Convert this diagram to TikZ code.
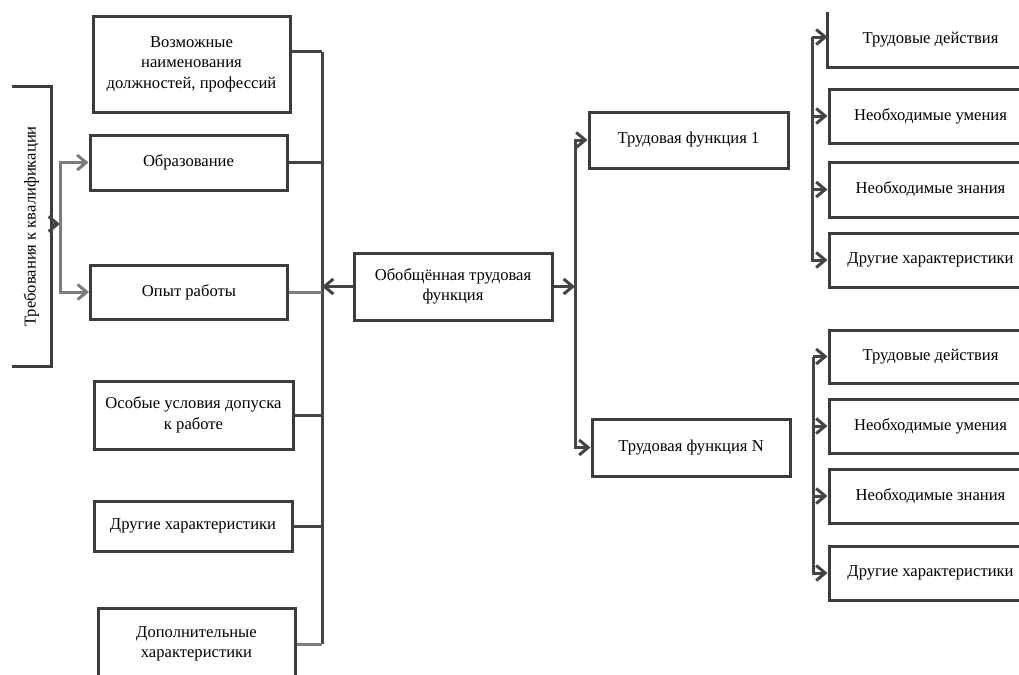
\documentclass[tikz,border=0pt]{standalone}
\usepackage{fontspec}
\setmainfont{Liberation Serif}
\usepackage{tikz}
\usetikzlibrary{arrows.meta}
\definecolor{boxgray}{HTML}{3C3C3C}
\definecolor{linedark}{HTML}{444444}
\definecolor{linegray}{HTML}{7C7C7C}
\tikzset{
	box/.style={rectangle,draw=boxgray,line width=1.5pt,align=center,inner sep=2pt,font=\fontsize{8.3}{10.3}\selectfont},
	openbox/.style={box,draw=none},
	boxline/.style={draw=boxgray,line width=1.5pt},
	lbox/.style={box,minimum width=98.5pt},
	rbox/.style={box,minimum width=101.5pt,minimum height=27pt},
	link/.style={draw=linedark,line width=1.5pt},
	directed/.style={link,arrows={-Straight Barb[length=4.5pt,width=7.5pt,line width=1.5pt]}}
	}

\begin{document}
\begin{tikzpicture}[x=0.5pt,y=-0.5pt]
	\useasboundingbox (0,0) rectangle (1019,675);
	% qualification side
	\node[openbox,rotate=90,minimum width=138.5pt,minimum height=18.5pt] (quals) at (31.5,226.5) {Требования к квалификации};
	\draw[boxline] (quals.north east) -- (quals.south east) -- (quals.south west) -- (quals.north west);
	\node[lbox,minimum height=48pt] (posts) at (191.5,64) {Возможные\\наименования\\должностей, профессий};
	\node[lbox,minimum height=27.5pt] (edu) at (188.5,162.5) {Образование};
	\node[lbox,minimum height=27pt] (exp) at (189,292) {Опыт работы};
	\node[lbox,minimum width=99.5pt,minimum height=34pt] (cond) at (193.5,415) {Особые условия допуска\\к работе};
	\node[lbox,minimum width=99pt,minimum height=25pt] (other) at (193,526) {Другие характеристики};
	\node[lbox,minimum height=36pt] (extra) at (196.5,644) {Дополнительные\\характеристики};
	% central part
	\node[box,minimum width=99pt,minimum height=33.5pt] (gen) at (453,286.5) {Обобщённая трудовая\\функция};
	\node[box,minimum width=99.5pt,minimum height=28pt] (tf1) at (688.5,140) {Трудовая функция 1};
	\node[box,minimum width=99pt,minimum height=28.5pt] (tfN) at (691,447.5) {Трудовая функция N};
	% right columns
	\node[openbox,minimum width=101.5pt,minimum height=26.5pt] (act1) at (930.5,39.5) {Трудовые действия};
	\draw[boxline] (act1.north west) -- (act1.south west) -- (act1.south east) -- (act1.north east);
	\node[rbox] (skill1) at (930.5,116) {Необходимые умения};
	\node[rbox,minimum height=27.5pt] (know1) at (930.5,189.5) {Необходимые знания};
	\node[rbox] (oth1) at (930.5,260) {Другие характеристики};
	\node[rbox,minimum height=26.5pt] (act2) at (930.5,356.5) {Трудовые действия};
	\node[rbox] (skill2) at (930.5,426) {Необходимые умения};
	\node[rbox] (know2) at (930.5,496) {Необходимые знания};
	\node[rbox] (oth2) at (930.5,573) {Другие характеристики};

	\coordinate (lbus) at (60,224);
	\coordinate (mbus) at (322,286.5);
	\coordinate (rbus) at (575,286.5);
	\coordinate (sbus1) at (812,37);
	\coordinate (sbus2) at (813,356.5);

	\draw[directed] (quals.south |- lbus) -- (lbus);
	\draw[directed,draw=linegray] (lbus) |- (edu);
	\draw[directed,draw=linegray] (lbus) |- (exp);

	\draw[link] (posts.7 -| mbus) -- (extra -| mbus);
	\foreach \n in {posts.7,edu,cond,other}
		\draw[link] (\n) -- (\n -| mbus);
	\draw[link,draw=linegray] (exp) -- (exp -| mbus);
	\draw[link,draw=linegray] (extra) -- (extra -| mbus);

	\draw[directed] (gen) -- (mbus);
	\draw[directed] (gen) -- (rbus);
	\draw[directed] (rbus) |- (tf1);
	\draw[directed] (rbus) |- (tfN);

	\draw[directed] (sbus1) -- (sbus1 -| act1.west);
	\foreach \n in {skill1,know1,oth1}
		\draw[directed] (sbus1) |- (\n);
	\foreach \n in {act2,skill2,know2,oth2}
		\draw[directed] (sbus2) |- (\n);
\end{tikzpicture}
\end{document}
